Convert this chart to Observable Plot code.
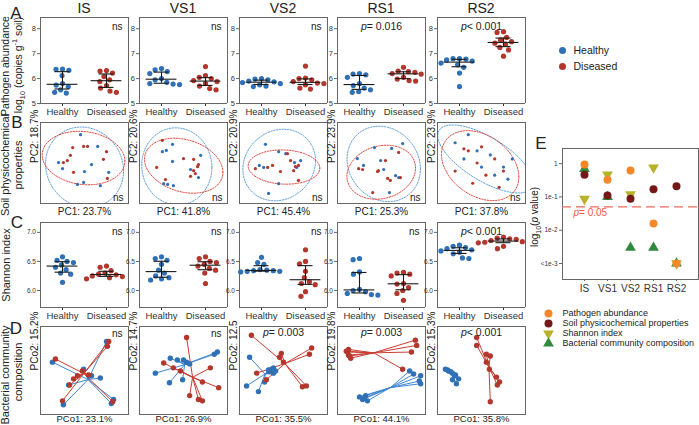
<!DOCTYPE html>
<html><head><meta charset="utf-8">
<script src="https://cdn.jsdelivr.net/npm/d3@7"></script>
<script src="https://cdn.jsdelivr.net/npm/@observablehq/plot@0.6"></script>
<style>
body{margin:0;background:#fff;}
#fig{position:relative;width:699px;height:425px;overflow:hidden;font-family:"Liberation Sans",Arial,sans-serif;color:#222;}
.lbl{position:absolute;white-space:nowrap;line-height:1;}
.lbl sub,.lbl sup{font-size:70%;line-height:0;}
</style></head><body><div id="fig"></div>
<script>
// ---------- data ----------
const stages = ["IS", "VS1", "VS2", "RS1", "RS2"];
const groups = ["Healthy", "Diseased"];

// A: pathogen abundance, log10 copies g-1 soil (one array per stage)
const pathogenHealthy = [
  [6.38, 6.37, 6.33, 6.12, 5.80, 5.74, 5.68, 5.55, 5.45, 5.42],
  [6.40, 6.35, 6.28, 6.20, 6.00, 5.95, 5.85, 5.80, 5.78, 5.76],
  [6.00, 5.98, 5.95, 5.90, 5.87, 5.84, 5.80, 5.75, 5.70, 5.68],
  [6.20, 6.18, 6.15, 6.05, 5.80, 5.72, 5.62, 5.55, 5.48, 5.45],
  [6.80, 6.80, 6.78, 6.75, 6.70, 6.62, 6.55, 6.45, 6.22, 5.68]
];
const pathogenDiseased = [
  [6.32, 6.30, 6.22, 6.08, 5.95, 5.88, 5.72, 5.62, 5.50, 5.45],
  [6.48, 6.12, 6.05, 6.00, 5.92, 5.88, 5.80, 5.70, 5.60, 5.55],
  [6.50, 6.02, 6.00, 5.95, 5.88, 5.82, 5.80, 5.75, 5.62, 5.58],
  [6.45, 6.30, 6.28, 6.25, 6.20, 6.18, 6.05, 5.98, 5.92, 5.90],
  [7.88, 7.85, 7.65, 7.55, 7.48, 7.42, 7.38, 7.25, 7.15, 6.90]
];
const pathogenLabels = ["ns", "ns", "ns", "p= 0.016", "p< 0.001"];
const pathogenTicks = [5, 6, 7, 8];

// C: Shannon index
const shannonHealthy = [
  [6.58, 6.52, 6.50, 6.48, 6.44, 6.40, 6.36, 6.30, 6.28, 6.14],
  [6.58, 6.55, 6.52, 6.45, 6.35, 6.30, 6.25, 6.22, 6.20, 6.18],
  [6.57, 6.48, 6.45, 6.36, 6.35, 6.34, 6.34, 6.33, 6.33, 6.32],
  [6.55, 6.53, 6.32, 6.28, 6.02, 6.00, 5.98, 5.95, 5.93, 5.92],
  [6.78, 6.76, 6.74, 6.72, 6.70, 6.68, 6.66, 6.63, 6.56, 6.55]
];
const shannonDiseased = [
  [6.42, 6.40, 6.34, 6.30, 6.28, 6.27, 6.25, 6.24, 6.22, 6.20],
  [6.58, 6.55, 6.50, 6.48, 6.45, 6.42, 6.38, 6.35, 6.30, 6.12],
  [6.70, 6.50, 6.46, 6.33, 6.22, 6.15, 6.12, 6.10, 5.98, 5.90],
  [6.31, 6.30, 6.28, 6.25, 6.12, 6.11, 6.05, 6.00, 5.95, 5.83],
  [6.92, 6.90, 6.89, 6.88, 6.86, 6.84, 6.83, 6.82, 6.76, 6.72]
];
const shannonLabels = ["ns", "ns", "ns", "ns", "p< 0.001"];
const shannonTicks = [6.0, 6.5, 7.0];

// B: PCA of soil physicochemical properties [PC1, PC2]
const pcaHealthy = [
  [[-0.09,0.70],[-0.59,0.01],[0.30,0.41],[0.16,-0.04],[0.0,-0.21],[0.55,-0.23],[-0.02,-0.48],[-0.16,-0.53],[-0.5,-0.14],[0.36,-0.56]],
  [[-0.25,0.46],[-0.48,0.28],[-0.39,0.31],[0.39,0.19],[-0.25,0.04],[0.16,-0.16],[-0.45,-0.51],[-0.23,-0.56],[-0.36,-0.53],[0.34,-0.36]],
  [[-0.41,0.46],[-0.11,0.28],[0.05,0.23],[0.25,0.01],[-0.55,-0.06],[-0.45,-0.11],[0.3,-0.11],[-0.11,-0.51],[-0.34,-0.75],[0.39,0.06]],
  [[-0.16,0.38],[0.48,0.48],[0.23,0.36],[-0.55,0.11],[-0.41,-0.06],[0.05,-0.16],[0.32,-0.31],[0.39,-0.36],[0.18,-0.73],[-0.02,0.06]],
  [[-0.6,0.5],[-0.3,0.7],[-0.1,0.3],[0.2,0.2],[0.5,-0.1],[0.6,-0.4],[0.3,-0.3],[0.0,-0.1],[-0.4,0.1],[0.7,0.1]]
];
const pcaDiseased = [
  [[-0.48,0.01],[-0.27,0.38],[-0.02,0.41],[0.07,0.41],[-0.39,0.06],[-0.25,-0.23],[0.43,0.09],[0.5,0.28],[0.52,-0.38],[-0.32,0.19]],
  [[-0.48,0.56],[0,0.11],[0.23,0.09],[0.34,-0.04],[0.32,-0.09],[0.23,-0.19],[0.27,-0.26],[-0.41,-0.41],[-0.61,-0.11],[0.16,-0.33]],
  [[-0.64,-0.14],[-0.36,-0.11],[-0.25,-0.06],[0.16,0.06],[0.27,-0.09],[0.34,-0.06],[0.23,-0.19],[0.34,-0.43],[0.09,0.23],[-0.07,-0.21]],
  [[0.39,0.26],[-0.52,-0.14],[-0.09,-0.21],[-0.07,-0.19],[0.14,-0.38],[0.2,-0.43],[0.43,-0.36],[-0.2,-0.73],[-0.43,-0.16],[0.09,0.06]],
  [[-0.6,-0.2],[-0.3,0.3],[-0.4,0.35],[0.0,0.4],[0.3,0.1],[0.1,-0.3],[-0.2,-0.5],[0.4,-0.6],[0.5,-0.2],[-0.1,0.0]]
];
const pcaXLabels = ["PC1: 23.7%", "PC1: 41.8%", "PC1: 45.4%", "PC1: 25.3%", "PC1: 37.8%"];
const pcaYLabels = ["PC2: 18.7%", "PC2: 20.6%", "PC2: 20.9%", "PC2: 23.9%", "PC2: 23.9%"];
const pcaLabels = ["ns", "ns", "ns", "ns", "ns"];

// D: PCoA of bacterial community [PCo1, PCo2]
const pcoaHealthy = [
  [[0.5,0.66],[-0.73,0.19],[-0.02,0.03],[0.16,-0.12],[0.36,-0.17],[-0.36,-0.33],[0.66,-0.66],[0.61,-0.75],[-0.48,-0.78],[0.11,-0.12]],
  [[0.77,0.42],[-0.3,0.28],[0,0.24],[-0.64,-0.06],[-0.32,-0.28],[-0.02,-0.21],[0.14,0.15],[0.07,0.19],[-0.14,0.24],[0.7,0.37]],
  [[-0.77,0.3],[-0.23,0.06],[-0.27,0.03],[-0.32,-0.03],[-0.23,-0.06],[-0.43,-0.26],[-0.84,-0.35],[-0.57,-0.48],[-0.34,0.01],[-0.18,-0.01]],
  [[0.64,-0.01],[0.73,-0.08],[0.89,-0.12],[0.86,-0.24],[0.89,-0.3],[-0.5,-0.6],[-0.36,-0.57],[-0.43,-0.66],[-0.32,-0.69],[-0.39,-0.62]],
  [[-0.82,0.03],[-0.75,-0.01],[-0.66,-0.06],[-0.59,-0.1],[-0.52,-0.19],[-0.57,-0.3],[-0.7,-0.03],[-0.77,0.01],[-0.61,-0.12],[-0.66,-0.21]]
];
const pcoaDiseased = [
  [[0.52,0.55],[-0.66,0.26],[-0.16,-0.12],[-0.25,-0.19],[-0.34,-0.33],[-0.5,-0.69],[0.64,-0.71],[-0.05,-0.01],[0.09,-0.1],[0.55,0.66]],
  [[0.07,0.75],[-0.45,0.17],[-0.23,0.06],[0.61,0.06],[0.43,-0.26],[0.8,-0.39],[0.14,-0.57],[0.34,-0.66],[0.43,-0.69],[-0.07,-0.01]],
  [[-0.73,0.8],[0.64,0.51],[0.59,0.37],[-0.05,0.39],[-0.09,0.3],[-0.61,-0.06],[-0.39,-0.21],[0.43,-0.37],[0.52,-0.35],[0,0.19]],
  [[0.77,0.69],[0.8,0.57],[0.68,0.42],[-0.75,0.48],[-0.77,0.42],[-0.75,0.35],[-0.7,0.28],[-0.8,0.44],[0.48,0.03],[-0.73,0.33]],
  [[-0.11,0.75],[-0.11,0.57],[0.11,0.37],[0.2,0.33],[0.18,0.03],[0.34,-0.15],[0.41,-0.26],[0.36,-0.33],[0.2,-0.71],[0.11,0.19]]
];
const pcoaXLabels = ["PCo1: 23.1%", "PCo1: 26.9%", "PCo1: 35.5%", "PCo1: 44.1%", "PCo1: 35.8%"];
const pcoaYLabels = ["PCo2: 15.2%", "PCo2: 14.7%", "PCo2: 12.5", "PCo2: 19.8%", "PCo2: 15.3%"];
const pcoaLabels = ["ns", "ns", "p= 0.003", "p= 0.003", "p< 0.001"];

// E: p values per stage (RS2 values below 1e-3 are shown at 1e-3)
const eSeries = ["Pathogen abundance", "Soil physicochemical properties", "Shannon index", "Bacterial community composition"];
const ePathogen  = [0.95, 0.33, 0.62, 0.016, 0.001];
const eSoil      = [0.46, 0.11, 0.088, 0.17, 0.21];
const eShannon   = [0.087, 0.47, 0.12, 0.76, 0.001];
const eBacterial = [0.70, 0.10, 0.003, 0.003, 0.001];
const eTickValues = [1, 0.1, 0.01, 0.001];
const eTickLabels = ["1", "1e-1", "1e-2", "<1e-3"];

// ---------- style ----------
const FONT = '"Liberation Sans", Arial, sans-serif';
const BLUE = "#2f70b6", RED = "#b3372c";
const ELL = {Healthy: "#5d9fdc", Diseased: "#e0473d"};
const LINK = {Healthy: "#3f86d2", Diseased: "#cc3d33"};
const FRAME = "#666";
const ECOL = ["#f7882a", "#741818", "#b8b22a", "#2f8a3b"];
const X0 = [40, 139, 239, 337, 437];
const FW = 88;
const fig = document.getElementById("fig");

function baseStyle(fs) {
  return {background: "transparent", fontFamily: FONT, fontSize: fs + "px", color: "#333", overflow: "visible"};
}
function place(el, left, top) {
  el.style.position = "absolute";
  el.style.left = left + "px";
  el.style.top = top + "px";
  el.style.maxWidth = "none";
  fig.appendChild(el);
}
function label(html, cx, cy, size, rotate, extra = "") {
  const d = document.createElement("div");
  d.className = "lbl";
  d.innerHTML = html;
  d.style.cssText += `left:${cx}px;top:${cy}px;font-size:${size}px;transform:translate(-50%,-50%)${rotate ? " rotate(-90deg)" : ""};${extra}`;
  fig.appendChild(d);
}

// ---------- strip panels (A, C) ----------
function stripPanel(cfg, i) {
  const {top, H, domain, ticks, fmt, tickFont, healthy, diseased, labels} = cfg;
  const data = [
    ...healthy[i].map(value => ({group: "Healthy", value})),
    ...diseased[i].map(value => ({group: "Diseased", value}))
  ];
  const stats = groups.map(group => {
    const v = data.filter(d => d.group === group).map(d => d.value).sort(d3.ascending);
    return {group, med: d3.quantile(v, 0.5), q1: d3.quantile(v, 0.25), q3: d3.quantile(v, 0.75)};
  });
  const mL = 16, mR = 2, mT = 1, mB = 20;
  const lab = labels[i];
  const labMark = lab === "ns"
    ? Plot.text([lab], {fx: () => "Diseased", frameAnchor: "top-right", dx: -6, dy: 5, lineAnchor: "top", textAnchor: "end", fontSize: 10, fill: "#222"})
    : Plot.text([lab], {fx: () => "Diseased", x: 0, frameAnchor: "top", dy: 5, lineAnchor: "top", fontSize: 10.5, fill: "#222"});
  const svg = Plot.plot({
    width: mL + FW + mR, height: mT + H + mB,
    marginLeft: mL, marginRight: mR, marginTop: mT, marginBottom: mB,
    style: baseStyle(9.5),
    fx: {domain: groups, padding: 0, axis: "bottom", tickSize: 3, tickPadding: 2, label: null},
    x: {domain: [0, 1], axis: null},
    y: {domain, axis: null},
    color: {domain: groups, range: [BLUE, RED]},
    marks: [
      Plot.ruleY(domain, {stroke: FRAME}),
      Plot.ruleX([0], {fx: () => "Healthy", stroke: FRAME}),
      Plot.ruleX([1], {fx: () => "Diseased", stroke: FRAME}),
      Plot.axisY({ticks, tickFormat: fmt, tickSize: 3, tickPadding: 1.5, fontSize: tickFont, stroke: FRAME, label: null}),
      Plot.dot(data, Plot.dodgeX({anchor: "middle", padding: 1.3}, {fx: "group", y: "value", r: 2.6, fill: "group"})),
      Plot.ruleY(stats, {fx: "group", y: "med", x1: 0.15, x2: 0.85, stroke: "#1a1a1a", strokeWidth: 1.1}),
      Plot.ruleX(stats, {fx: "group", x: 0.5, y1: "q1", y2: "q3", stroke: "#1a1a1a", strokeWidth: 1.1}),
      Plot.ruleY(stats, {fx: "group", y: "q1", x1: 0.33, x2: 0.67, stroke: "#1a1a1a", strokeWidth: 1.1}),
      Plot.ruleY(stats, {fx: "group", y: "q3", x1: 0.33, x2: 0.67, stroke: "#1a1a1a", strokeWidth: 1.1}),
      labMark
    ]
  });
  place(svg, X0[i] - mL, top - mT);
}

// 95% normal-theory confidence ellipse from the points: radius sqrt(chi2(0.95, 2))
const CHI2_95_2 = 5.991;
function confidenceEllipse(pts) {
  const n = pts.length;
  const mx = d3.mean(pts, d => d.x), my = d3.mean(pts, d => d.y);
  const sxx = d3.sum(pts, d => (d.x - mx) ** 2) / (n - 1);
  const syy = d3.sum(pts, d => (d.y - my) ** 2) / (n - 1);
  const sxy = d3.sum(pts, d => (d.x - mx) * (d.y - my)) / (n - 1);
  const a = Math.sqrt(sxx), b = sxy / a, c = Math.sqrt(Math.max(syy - b * b, 1e-9));
  const R = Math.sqrt(CHI2_95_2);
  return d3.range(0, 121).map(k => {
    const t = 2 * Math.PI * k / 120, u = Math.cos(t), v = Math.sin(t);
    return {x: mx + R * a * u, y: my + R * (b * u + c * v)};
  });
}

function toPoints(h, d, i) {
  return [
    ...h[i].map(([x, y]) => ({group: "Healthy", x, y})),
    ...d[i].map(([x, y]) => ({group: "Diseased", x, y}))
  ];
}

function pcaPanel(i) {
  const data = toPoints(pcaHealthy, pcaDiseased, i);
  const mL = 16, mR = 2, mT = 1, mB = 16, H = 81, top = 122;
  const svg = Plot.plot({
    width: mL + FW + mR, height: mT + H + mB,
    marginLeft: mL, marginRight: mR, marginTop: mT, marginBottom: mB,
    style: baseStyle(10),
    x: {domain: [-1, 1], axis: null},
    y: {domain: [-1, 1], axis: null},
    color: {domain: groups, range: [BLUE, RED]},
    marks: [
      ...groups.map(g => Plot.line(confidenceEllipse(data.filter(d => d.group === g)),
        {x: "x", y: "y", stroke: ELL[g], strokeWidth: 1, strokeDasharray: "1.4,1.4", clip: true})),
      Plot.frame({stroke: FRAME}),
      Plot.dot(data, {x: "x", y: "y", fill: "group", r: 1.6}),
      Plot.text([pcaXLabels[i]], {frameAnchor: "bottom", lineAnchor: "top", dy: 4, fontSize: 10, fill: "#222"}),
      Plot.text([pcaYLabels[i]], {frameAnchor: "left", rotate: -90, dx: -6, fontSize: 10, fill: "#222"}),
      Plot.text([pcaLabels[i]], {frameAnchor: "bottom-right", dx: -5, dy: -3, lineAnchor: "bottom", textAnchor: "end", fontSize: 10, fill: "#222"})
    ]
  });
  place(svg, X0[i] - mL, top - mT);
}

function pcoaPanel(i) {
  const data = toPoints(pcoaHealthy, pcoaDiseased, i);
  const cent = d3.rollup(data, v => ({x: d3.mean(v, d => d.x), y: d3.mean(v, d => d.y)}), d => d.group);
  const mL = 16, mR = 2, mT = 1, mB = 10, H = 88, top = 326;
  const lab = pcoaLabels[i];
  const labMark = lab === "ns"
    ? Plot.text([lab], {frameAnchor: "top-right", dx: -6, dy: 3, lineAnchor: "top", textAnchor: "end", fontSize: 10, fill: "#222"})
    : Plot.text([lab], {frameAnchor: "top", dy: 2, lineAnchor: "top", fontSize: 10.5, fill: "#222"});
  const svg = Plot.plot({
    width: mL + FW + mR, height: mT + H + mB,
    marginLeft: mL, marginRight: mR, marginTop: mT, marginBottom: mB,
    style: baseStyle(10),
    x: {domain: [-1, 1], axis: null},
    y: {domain: [-1, 1], axis: null},
    color: {domain: groups, range: [BLUE, RED]},
    marks: [
      Plot.frame({stroke: FRAME}),
      ...groups.map(g => Plot.link(data.filter(d => d.group === g), {
        x1: "x", y1: "y", x2: d => cent.get(d.group).x, y2: d => cent.get(d.group).y,
        stroke: LINK[g], strokeWidth: 1
      })),
      Plot.dot(data, {x: "x", y: "y", fill: "group", r: 2.7}),
      Plot.text([pcoaXLabels[i]], {frameAnchor: "bottom", lineAnchor: "top", dy: 0.5, fontSize: 9.5, fill: "#222"}),
      Plot.text([pcoaYLabels[i]], {frameAnchor: "left", rotate: -90, dx: -6, fontSize: 10, fill: "#222"}),
      labMark
    ]
  });
  place(svg, X0[i] - mL, top - mT);
}

const rowA = {top: 17, H: 86, domain: [5, 8.45], ticks: pathogenTicks, fmt: d3.format("d"), tickFont: 7.5,
  healthy: pathogenHealthy, diseased: pathogenDiseased, labels: pathogenLabels};
const rowC = {top: 222, H: 85, domain: [5.707, 7.17], ticks: shannonTicks, fmt: d3.format(".1f"), tickFont: 6.5,
  healthy: shannonHealthy, diseased: shannonDiseased, labels: shannonLabels};

stages.forEach((s, i) => {
  stripPanel(rowA, i);
  pcaPanel(i);
  stripPanel(rowC, i);
  pcoaPanel(i);
});

// ---------- panel E ----------
const triangleDown = {
  draw(context, size) {
    const y = Math.sqrt(size / (Math.sqrt(3) * 3));
    context.moveTo(0, 2 * y);
    context.lineTo(Math.sqrt(3) * y, -y);
    context.lineTo(-Math.sqrt(3) * y, -y);
    context.closePath();
  }
};
const eSymbols = ["circle", "circle", triangleDown, "triangle"];
const eValues = [ePathogen, eSoil, eShannon, eBacterial];
const drawOrder = [3, 2, 1, 0];
const eData = drawOrder.flatMap(si => stages.map((stage, j) => ({series: eSeries[si], stage, p: eValues[si][j]})));
{
  const mL = 24, mR = 1, mT = 1, mB = 20, H = 131;
  const svg = Plot.plot({
    width: mL + 136 + mR, height: mT + H + mB,
    marginLeft: mL, marginRight: mR, marginTop: mT, marginBottom: mB,
    style: baseStyle(10),
    x: {type: "point", domain: stages, padding: 0.95, axis: null},
    y: {type: "log", domain: [3.3e-4, 2.85], axis: null},
    color: {domain: eSeries, range: ECOL},
    symbol: {domain: eSeries, range: eSymbols},
    marks: [
      Plot.frame({stroke: FRAME}),
      Plot.ruleY([0.05], {stroke: "#f0695a", strokeWidth: 1.2, strokeDasharray: "9,5"}),
      Plot.text(["p= 0.05"], {y: () => 0.05, frameAnchor: "left", dx: 11, dy: 2, lineAnchor: "top", textAnchor: "start", fontSize: 10, fill: "#ef5a4a"}),
      Plot.axisY({ticks: eTickValues, tickFormat: d => eTickLabels[eTickValues.indexOf(d)], tickSize: 3, tickPadding: 2, fontSize: 6.5, stroke: FRAME, label: null}),
      Plot.axisX({tickSize: 2, tickPadding: 3, fontSize: 10, stroke: FRAME, label: null}),
      Plot.dot(eData, {x: "stage", y: "p", fill: "series", symbol: "series", r: 4})
    ]
  });
  place(svg, 562 - mL, 148 - mT);
}

// legend of panel E
{
  const svg = Plot.plot({
    width: 159, height: 44, marginLeft: 8, marginRight: 0, marginTop: 6, marginBottom: 6,
    style: baseStyle(9),
    y: {type: "point", domain: eSeries, padding: 0, axis: null},
    color: {domain: eSeries, range: ECOL},
    symbol: {domain: eSeries, range: eSymbols},
    marks: [
      Plot.dot(eSeries, {y: d => d, fill: d => d, symbol: d => d, r: 4, frameAnchor: "left"}),
      Plot.text(eSeries, {y: d => d, text: d => d, frameAnchor: "left", dx: 14, textAnchor: "start", fontSize: 9, fill: "#222"})
    ]
  });
  place(svg, 540, 306);
}

// legend Healthy / Diseased
{
  const svg = Plot.plot({
    width: 100, height: 36, marginLeft: 7, marginRight: 0, marginTop: 10, marginBottom: 10,
    style: baseStyle(10.5),
    y: {type: "point", domain: groups, padding: 0, axis: null},
    color: {domain: groups, range: [BLUE, RED]},
    marks: [
      Plot.dot(groups, {y: d => d, fill: d => d, r: 3.5, frameAnchor: "left"}),
      Plot.text(groups, {y: d => d, text: d => d, frameAnchor: "left", dx: 11, textAnchor: "start", fontSize: 10.5, fill: "#222"})
    ]
  });
  place(svg, 555, 40);
}

// ---------- titles & labels ----------
stages.forEach((s, i) => label(s, X0[i] + FW / 2, 8, 14));
[["A", 16, 13], ["B", 17, 122], ["C", 17, 222], ["D", 16, 328], ["E", 541, 143]].forEach(([t, x, y]) => label(t, x, y, 17));
label("Pathogen abundance", 5, 66, 10.5, true);
label("log<sub>10</sub> (copies g<sup>-1</sup> soil)", 18, 65, 10.5, true);
label("Soil physicochemical", 5, 165, 11, true);
label("properties", 18, 165, 11, true);
label("Shannon index", 6, 265, 11, true);
label("Bacterial community", 5, 375, 11, true);
label("composition", 18, 372, 11, true);
label("log<sub>10</sub>(<i>p</i> value)", 535, 217, 10, true);

// italic "p" in p-value annotations
fig.querySelectorAll("svg text").forEach(el => {
  const t = el.textContent;
  if (el.children.length === 0 && /^p[=<]/.test(t)) {
    el.textContent = "";
    const ns = "http://www.w3.org/2000/svg";
    const ts = document.createElementNS(ns, "tspan");
    ts.setAttribute("font-style", "italic");
    ts.textContent = "p";
    el.appendChild(ts);
    el.appendChild(document.createTextNode(t.slice(1)));
  }
});
</script></body></html>
